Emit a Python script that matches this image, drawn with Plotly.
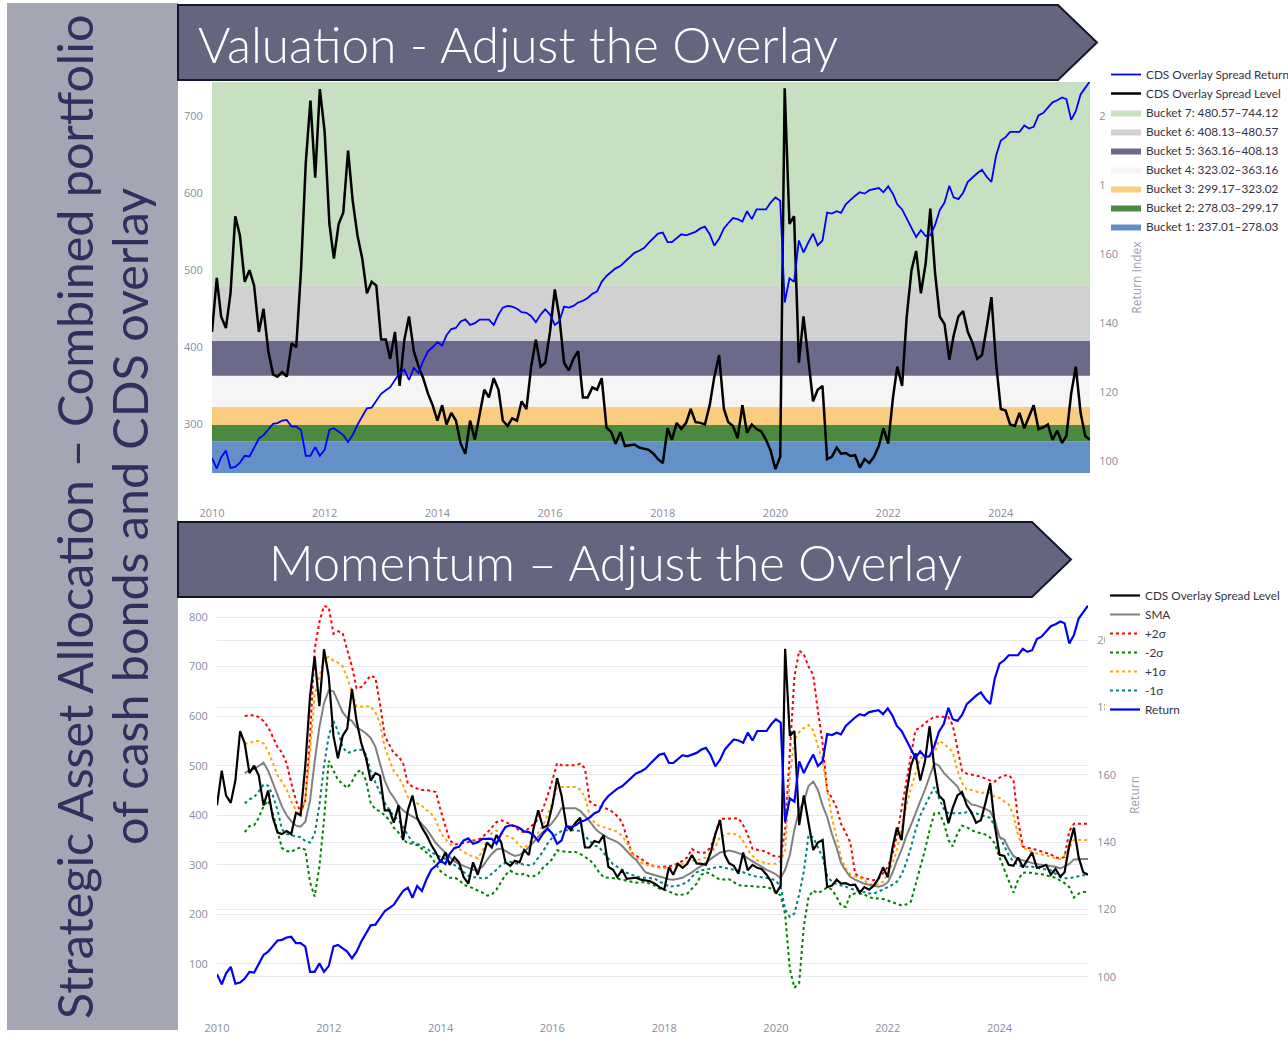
import pandas as pd
import plotly.graph_objects as go

W, H = 1288, 1038

# monthly observations, Jan 2010 .. Aug 2025
dates = pd.date_range("2010-01-01", periods=188, freq="MS")

level = [
    420, 490, 440, 425, 470, 570, 545, 485, 500, 480,
    420, 450, 395, 365, 362, 368, 362, 405, 400, 500,
    640, 720, 620, 735, 680, 560, 515, 560, 575, 655,
    590, 545, 515, 470, 485, 480, 410, 410, 385, 420,
    350, 410, 440, 395, 375, 360, 340, 325, 305, 325,
    300, 315, 305, 275, 262, 305, 280, 310, 345, 335,
    360, 345, 305, 298, 308, 305, 330, 320, 375, 410,
    375, 380, 420, 475, 440, 380, 370, 385, 395, 335,
    335, 348, 345, 360, 296, 290, 275, 290, 272, 273,
    274, 270, 268, 267, 262, 255, 250, 295, 280, 302,
    294, 302, 320, 303, 302, 300, 325, 362, 390, 320,
    303, 298, 282, 325, 289, 300, 294, 291, 280, 266,
    242, 258, 736, 560, 570, 380, 440, 385, 330, 345,
    350, 255, 258, 270, 262, 263, 259, 260, 244, 255,
    250, 258, 272, 295, 275, 335, 375, 350, 440, 500,
    525, 470, 509, 580, 496, 440, 430, 384, 415, 440,
    447, 420, 406, 385, 390, 425, 465, 380, 320, 318,
    300, 298, 315, 295, 310, 325, 294, 296, 300, 280,
    292, 276, 285, 340, 375, 315, 285, 280,
]

ret = [
    100.8, 97.8, 101, 103, 98, 98.3, 99.5, 101.5, 101.3, 104,
    106.5, 107.5, 109, 110.8, 111, 111.7, 111.9, 110, 110, 109,
    101.5, 101.5, 104, 101.5, 103.2, 109, 109.5, 108.5, 107.5, 105.5,
    107.5, 110.5, 113, 115.3, 115.5, 117.5, 119.5, 120.5, 121.4, 123.5,
    125.5, 126.5, 123.5, 127, 125.5, 129, 131.8, 133, 134.5, 133.5,
    136.5, 138.3, 138.6, 140.5, 141.1, 139.5, 140, 141, 141, 141,
    139.5, 142.5, 144.5, 145, 144.8, 144.2, 143.2, 143, 142, 140.3,
    142.5, 144, 142.5, 139.5, 140.5, 144.8, 144.5, 145, 146, 146.5,
    147.3, 148.5, 149.2, 152, 153.7, 155, 155.9, 156.6, 157.8, 159,
    160.4, 161, 161.8, 163.3, 164.6, 166, 166.3, 163.5, 163.5, 164.8,
    165.8, 165.5, 166, 166.5, 167.5, 168, 165.8, 162.5, 164.5, 167.5,
    169, 170.5, 170.2, 169.5, 172.5, 170.2, 173, 173, 173, 175,
    176.5, 175.5, 146, 153, 152, 164, 160.5, 163.4, 166, 162.6,
    164, 172.1, 171.8, 172.5, 172, 174.5, 175.8, 177, 178, 177.6,
    178.6, 178.9, 179.2, 178, 179.7, 177.5, 174.5, 173, 170.5, 167.5,
    165, 167, 165.3, 165.5, 168.5, 172.8, 175, 179.9, 176.5, 176,
    177.8, 181, 182.3, 183.5, 184.5, 182.5, 181, 188.6, 193, 194,
    195.5, 195.5, 195.5, 197.4, 196.5, 197, 200.3, 201, 202.7, 204.1,
    204.7, 205.5, 205, 199, 201.5, 206.4, 208.3, 210.2,
]

sma = [None] * 6 + [
    485, 491, 493, 500,
    506, 490, 464, 438, 418, 400, 388, 379, 377, 387,
    430, 508, 578, 626, 652, 650, 631, 608, 596, 590,
    577, 572, 565, 556, 538, 505, 470, 448, 436, 420,
    410, 403, 398, 392, 382, 372, 358, 344, 334, 325,
    315, 307, 302, 298, 293, 290, 290, 296, 310, 322,
    331, 333, 328, 322, 318, 320, 326, 335, 346, 357,
    367, 376, 385, 398, 414, 414, 414, 414, 409, 398,
    388, 375, 366, 360, 354, 350, 346, 338, 328, 318,
    310, 297, 285, 282, 279, 277, 274, 271, 270, 272,
    274, 280, 285, 292, 298, 304, 312, 318, 325, 327,
    329, 327, 324, 320, 313, 307, 300, 295, 290, 286,
    281, 273, 290, 320, 372, 410, 428, 459, 468, 451,
    420, 396, 362, 334, 304, 288, 276, 270, 266, 262,
    260, 258, 256, 258, 265, 284, 308, 330, 358, 380,
    402, 428, 452, 480, 505, 500, 486, 476, 467, 458,
    440, 430, 422, 420, 417, 413, 408, 390, 356, 351,
    333, 318, 312, 309, 307, 304, 301, 300, 299, 297,
    296, 293, 297, 302, 311, 312, 312, 312,
]

up2 = [None] * 6 + [
    600, 602, 602, 598,
    590, 578, 558, 537, 527, 505, 465, 430, 405, 430,
    560, 735, 790, 822, 820, 766, 771, 768, 733, 700,
    656, 659, 670, 682, 677, 625, 560, 540, 525, 519,
    505, 464, 458, 454, 451, 451, 449, 447, 410, 380,
    350, 341, 342, 344, 346, 349, 350, 356, 365, 375,
    386, 390, 386, 382, 378, 368, 366, 374, 382, 393,
    413, 440, 470, 505, 501, 501, 501, 501, 504, 495,
    428, 421, 418, 415, 412, 406, 398, 386, 357, 325,
    318, 313, 305, 300, 296, 296, 296, 297, 299, 303,
    308, 315, 332, 326, 324, 325, 336, 362, 393, 393,
    393, 393, 394, 380, 361, 332, 330, 329, 327, 319,
    317, 316, 370, 540, 680, 732, 725, 700, 683, 610,
    545, 450, 435, 415, 383, 365, 345, 282, 276, 273,
    271, 269, 273, 283, 296, 322, 358, 410, 468, 520,
    572, 577, 586, 592, 599, 599, 599, 598, 582, 538,
    490, 484, 482, 480, 478, 474, 470, 468, 476, 480,
    481, 471, 390, 337, 334, 333, 330, 328, 324, 321,
    315, 313, 316, 368, 383, 383, 383, 383,
]

up1 = [None] * 6 + [
    545, 545, 550, 550,
    545, 530, 505, 480, 468, 452, 428, 410, 398, 435,
    525, 642, 680, 713, 720, 712, 708, 701, 678, 650,
    619, 619, 620, 620, 608, 585, 537, 511, 489, 478,
    460, 437, 430, 424, 419, 411, 403, 390, 365, 352,
    342, 333, 333, 327, 320, 317, 313, 328, 350, 364,
    369, 365, 359, 356, 351, 338, 334, 343, 355, 365,
    380, 400, 425, 455, 457, 457, 457, 457, 452, 436,
    400, 386, 379, 376, 373, 370, 367, 358, 345, 325,
    313, 305, 300, 298, 296, 294, 293, 292, 294, 297,
    302, 306, 308, 309, 312, 315, 325, 335, 358, 361,
    363, 362, 360, 348, 330, 318, 309, 306, 302, 302,
    302, 308, 330, 480, 552, 568, 576, 582, 571, 540,
    511, 450, 395, 355, 315, 293, 281, 277, 275, 268,
    262, 259, 261, 266, 282, 303, 330, 370, 418, 455,
    485, 515, 518, 518, 525, 550, 545, 537, 528, 490,
    465, 451, 451, 448, 445, 446, 445, 437, 435, 428,
    422, 400, 360, 335, 330, 326, 323, 321, 320, 317,
    313, 312, 318, 335, 350, 350, 350, 350,
]

dn1 = [None] * 6 + [
    424, 432, 437, 448,
    462, 460, 440, 410, 372, 362, 360, 357, 356, 348,
    345, 362, 420, 500, 560, 590, 570, 537, 526, 528,
    532, 532, 522, 488, 466, 445, 425, 411, 398, 391,
    375, 360, 346, 343, 337, 334, 325, 320, 316, 312,
    305, 300, 293, 284, 278, 275, 275, 272, 274, 282,
    290, 300, 304, 306, 303, 302, 301, 299, 302, 315,
    327, 343, 355, 363, 368, 370, 370, 370, 368, 358,
    347, 339, 336, 324, 311, 301, 296, 290, 284, 280,
    277, 274, 274, 273, 272, 266, 262, 256, 257, 258,
    261, 265, 276, 285, 289, 291, 293, 295, 296, 294,
    292, 291, 288, 285, 281, 278, 276, 275, 274, 272,
    268, 256, 210, 195, 202, 240, 286, 360, 355, 335,
    315, 277, 266, 261, 259, 256, 252, 250, 248, 245,
    242, 242, 246, 250, 255, 260, 266, 280, 304, 335,
    370, 400, 420, 438, 457, 435, 413, 404, 404, 404,
    404, 406, 405, 404, 400, 398, 395, 377, 357, 340,
    320, 305, 300, 296, 296, 296, 294, 292, 291, 289,
    282, 275, 273, 273, 275, 277, 279, 279,
]

dn2 = [None] * 6 + [
    366, 378, 380, 395,
    418, 430, 404, 365, 334, 328, 326, 332, 335, 330,
    265, 236, 296, 390, 510, 490, 472, 463, 455, 468,
    487, 491, 470, 425, 412, 408, 400, 390, 375, 365,
    352, 343, 343, 340, 333, 325, 316, 301, 287, 280,
    274, 274, 270, 260, 257, 253, 248, 244, 238, 240,
    250, 265, 280, 288, 283, 280, 282, 277, 277, 282,
    294, 302, 312, 329, 327, 326, 326, 326, 322, 316,
    310, 300, 285, 275, 274, 274, 272, 270, 268, 266,
    264, 265, 265, 262, 258, 252, 250, 246, 242, 239,
    240, 242, 252, 262, 280, 285, 282, 275, 270, 271,
    271, 265, 259, 258, 258, 257, 256, 255, 255, 252,
    245, 238, 200, 90, 52, 62, 175, 235, 248, 243,
    248, 255, 250, 235, 218, 215, 240, 242, 242, 240,
    235, 232, 232, 231, 228, 225, 221, 218, 220, 226,
    260, 294, 330, 370, 404, 405, 386, 350, 337, 363,
    379, 376, 370, 366, 363, 361, 355, 343, 315, 290,
    268, 244, 270, 284, 285, 283, 282, 281, 279, 277,
    274, 268, 263, 255, 234, 242, 245, 245,
]

bucket_edges = [237.01, 278.03, 299.17, 323.02, 363.16, 408.13, 480.57, 744.12]
bucket_colors = ["#6490c8", "#4a8a40", "#f8cd80", "#f5f5f5", "#6b6a8b", "#d1d1d1", "#c6e0c1"]


def px(x):
    return x / W


def py(y):
    return 1 - y / H


fig = go.Figure()

# ---- top chart: valuation buckets
for i in range(7):
    lo, hi = bucket_edges[i], bucket_edges[i + 1]
    fig.add_trace(go.Scatter(
        x=[dates[0], dates[-1], dates[-1], dates[0], dates[0]],
        y=[lo, lo, hi, hi, lo],
        fill="toself", fillcolor=bucket_colors[i], mode="lines",
        line=dict(width=0, color=bucket_colors[i]),
        name=f"Bucket {i + 1}: {lo:.2f}\u2013{hi:.2f}",
        legendrank=9 - i, hoverinfo="skip",
        xaxis="x", yaxis="y", legend="legend",
    ))

fig.add_trace(go.Scatter(x=dates, y=level, mode="lines", line=dict(color="black", width=2.5),
                         name="CDS Overlay Spread Level", legendrank=2,
                         xaxis="x", yaxis="y", legend="legend"))
fig.add_trace(go.Scatter(x=dates, y=ret, mode="lines", line=dict(color="blue", width=1.8),
                         name="CDS Overlay Spread Return", legendrank=1,
                         xaxis="x", yaxis="y2", legend="legend"))

# ---- bottom chart: momentum bands
bands = [
    ("+2\u03c3", up2, "red", 3),
    ("-2\u03c3", dn2, "green", 4),
    ("+1\u03c3", up1, "orange", 5),
    ("-1\u03c3", dn1, "teal", 6),
]
for name, vals, col, rank in bands:
    fig.add_trace(go.Scatter(x=dates, y=vals, mode="lines", line=dict(color=col, width=2, dash="dot"),
                             name=name, legendrank=rank, xaxis="x2", yaxis="y3", legend="legend2"))
fig.add_trace(go.Scatter(x=dates, y=sma, mode="lines", line=dict(color="gray", width=2),
                         name="SMA", legendrank=2, xaxis="x2", yaxis="y3", legend="legend2"))
fig.add_trace(go.Scatter(x=dates, y=level, mode="lines", line=dict(color="black", width=2.2),
                         name="CDS Overlay Spread Level", legendrank=1,
                         xaxis="x2", yaxis="y3", legend="legend2"))
fig.add_trace(go.Scatter(x=dates, y=ret, mode="lines", line=dict(color="blue", width=2.2),
                         name="Return", legendrank=7, xaxis="x2", yaxis="y4", legend="legend2"))

tick_font = dict(family="Open Sans, sans-serif", size=11, color="#8a8ca0")
xcommon = dict(type="date", range=[dates[0], dates[-1]], tickformat="%Y", dtick="M24",
               tick0="2010-01-01", ticks="outside", tickcolor="rgba(0,0,0,0)",
               showgrid=False, zeroline=False, showline=False, tickfont=tick_font)
ycommon = dict(zeroline=False, showline=False, ticks="outside", ticklen=6,
               tickcolor="rgba(0,0,0,0)", tickfont=tick_font)
grid = "#e6e9f0"
legend_font = dict(family="Lato, sans-serif", size=11.8, color="#333344")

fig.update_layout(
    width=W, height=H, margin=dict(l=0, r=0, t=0, b=0, autoexpand=False),
    paper_bgcolor="white", plot_bgcolor="white",
    font=dict(family="Open Sans, sans-serif", size=11, color="#8a8ca0"),
    hovermode=False,
    xaxis=dict(domain=[px(212), px(1090)], anchor="y", ticklen=30, **xcommon),
    yaxis=dict(domain=[py(473), py(82)], anchor="x", range=[237.01, 744.12], dtick=100,
               showgrid=False, **ycommon),
    yaxis2=dict(overlaying="y", side="right", anchor="x", range=[96.5, 210], dtick=20,
                showgrid=False, title=dict(text="Return Index", font=dict(size=12, color="#9a9cb0")),
                **ycommon),
    xaxis2=dict(domain=[px(217), px(1088)], anchor="y3", ticklen=28, **xcommon),
    yaxis3=dict(domain=[py(990), py(600)], anchor="x2", range=[47.5, 834.3], dtick=100,
                showgrid=True, gridcolor=grid, **ycommon),
    yaxis4=dict(overlaying="y3", side="right", anchor="x2", range=[96.1, 211.9], dtick=20,
                showgrid=True, gridcolor=grid,
                title=dict(text="Return", font=dict(size=12, color="#9a9cb0")), **ycommon),
    legend=dict(x=px(1106), y=py(60), xanchor="left", yanchor="top", bgcolor="white",
                font=legend_font, tracegroupgap=0),
    legend2=dict(x=px(1105), y=py(581), xanchor="left", yanchor="top", bgcolor="white",
                 font=legend_font, tracegroupgap=0),
)

banner_fill = "#646680"
banner_line = "#16162a"


def arrow_path(x0, x1, tip, y0, y1):
    ym = (y0 + y1) / 2
    return (f"M {px(x0)},{py(y0)} L {px(x1)},{py(y0)} L {px(tip)},{py(ym)} "
            f"L {px(x1)},{py(y1)} L {px(x0)},{py(y1)} Z")


fig.add_shape(type="rect", xref="paper", yref="paper", x0=px(7), x1=px(178), y0=py(1030), y1=py(3),
              fillcolor="#a5a6b4", line=dict(width=0), layer="above")
fig.add_shape(type="path", xref="paper", yref="paper", path=arrow_path(178, 1058, 1097, 5, 80),
              fillcolor=banner_fill, line=dict(color=banner_line, width=2), layer="above")
fig.add_shape(type="path", xref="paper", yref="paper", path=arrow_path(178, 1032, 1071, 522, 597),
              fillcolor=banner_fill, line=dict(color=banner_line, width=2), layer="above")

fig.add_annotation(text="Valuation - Adjust the Overlay", xref="paper", yref="paper",
                   x=px(196), y=py(44), xanchor="left", yanchor="middle", showarrow=False,
                   font=dict(family="Lato, sans-serif", size=49.5, color="white", weight=300))
fig.add_annotation(text="Momentum \u2013 Adjust the Overlay", xref="paper", yref="paper",
                   x=px(615), y=py(562), xanchor="center", yanchor="middle", showarrow=False,
                   font=dict(family="Lato, sans-serif", size=49, color="white", weight=300))

title_font = dict(family="Lato, sans-serif", size=48.4, color="#2f315c")
fig.add_annotation(text="Strategic Asset Allocation \u2013 Combined portfolio",
                   xref="paper", yref="paper", x=px(74), y=py(517), xanchor="center", yanchor="middle",
                   textangle=-90, showarrow=False, font=title_font)
fig.add_annotation(text="of cash bonds and CDS overlay",
                   xref="paper", yref="paper", x=px(129), y=py(517), xanchor="center", yanchor="middle",
                   textangle=-90, showarrow=False, font=title_font)

fig.write_html("out.html", config={"displayModeBar": False},
               post_script="document.body.style.margin='0px';document.body.style.overflow='hidden';")
